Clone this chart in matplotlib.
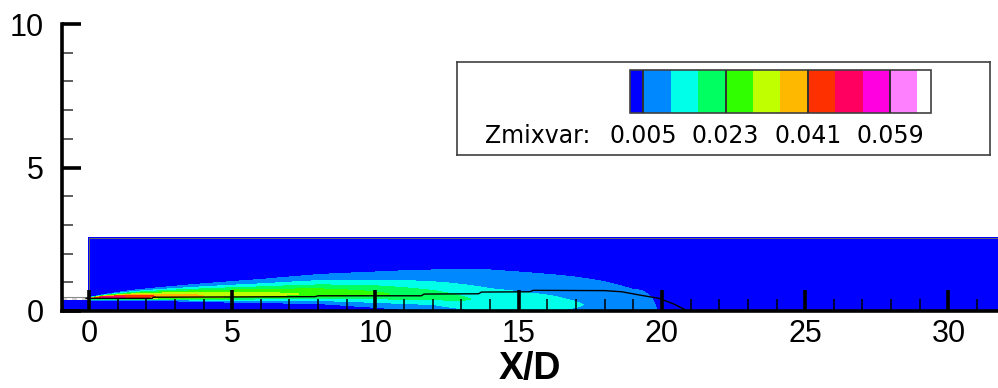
import numpy as np
import matplotlib.pyplot as plt
from matplotlib.patches import Rectangle

plt.rcParams['font.family'] = ['Liberation Sans', 'DejaVu Sans']

# contour levels and band colours (legend)
levels = [0.005, 0.011, 0.017, 0.023, 0.029, 0.035, 0.041, 0.047, 0.053, 0.059, 0.065]
band_colors = ['#0000FF', '#0088FF', '#00FFE8', '#00FF60', '#30FF00', '#C0FF00',
               '#FFB800', '#FF3000', '#FF0060', '#FF00E0', '#FF80FF', '#FFFFFF']
label_idx = [0, 3, 6, 9]
label_txt = ['0.005', '0.023', '0.041', '0.059']

# jet shear-layer stations
st_x = [0.0, 0.5, 1.5, 2.5, 4.0, 6.0, 8.0, 10.0, 12.0, 14.0, 16.0, 17.0, 18.0, 19.0, 19.7, 20.5, 32.0]
st_peak = [0.035, 0.050, 0.046, 0.040, 0.035, 0.031, 0.028, 0.024, 0.020, 0.0155, 0.0135, 0.0115,
           0.0095, 0.0075, 0.0053, 0.003, 0.0]
st_yc = [0.45, 0.48, 0.49, 0.51, 0.53, 0.56, 0.60, 0.60, 0.52, 0.35, 0.25, 0.22, 0.18, 0.12, 0.08, 0.05, 0.0]
st_top = [0.47, 0.57, 0.72, 0.82, 0.95, 1.10, 1.27, 1.36, 1.43, 1.43, 1.28, 1.18, 1.02, 0.75, 0.35, 0.3, 0.3]
st_inner = [0.05, 0.065, 0.085, 0.10, 0.14, 0.19, 0.24, 0.35, 0.42, 0.8, 0.9, 1.0, 1.0, 1.0, 1.0, 1.0, 1.0]
st_shape = [2.0, 2.0, 2.0, 1.9, 1.8, 1.7, 1.6, 1.5, 1.4, 1.3, 1.3, 1.3, 1.4, 1.5, 1.5, 1.5, 1.5]

# domain
dom_x = [0.0, 32.0]
dom_h = 2.55
nozzle_h = 0.38

# black iso-line
line_x = [-0.1, 2.2, 2.25, 7.9, 8.0, 11.6, 11.7, 13.6, 13.7, 15.4, 15.5, 18.0, 18.6, 19.2, 19.9, 20.4, 20.9]
line_y = [0.44, 0.44, 0.48, 0.50, 0.53, 0.53, 0.59, 0.60, 0.66, 0.67, 0.72, 0.71, 0.67, 0.56, 0.44, 0.25, 0.0]

# build field
gx = np.linspace(dom_x[0], dom_x[1], 801)
gy = np.linspace(0, dom_h, 300)
X, Y = np.meshgrid(gx, gy)
A = np.interp(X, st_x, st_peak)
yc = np.interp(X, st_x, st_yc)
p = np.interp(X, st_x, st_shape)
peak_a = np.array(st_peak)
wo_st = (np.array(st_top) - np.array(st_yc)) / np.log(np.maximum(peak_a / levels[0], 1.05)) ** (1 / np.array(st_shape))
wo = np.interp(X, st_x, wo_st)
wi = np.interp(X, st_x, st_inner)
d = Y - yc
eta = np.where(d >= 0, d / wo, -d / wi)
Z = A * np.exp(-eta ** p)

fig = plt.figure(figsize=(9.98, 3.88), dpi=100)
ax = fig.add_axes([62 / 998, 77 / 388, 936 / 998, 287 / 388])

ax.contourf(X, Y, Z, levels=[-1] + levels + [1], colors=band_colors, zorder=1)
ax.plot([dom_x[0], dom_x[0], dom_x[1]], [0.5, dom_h, dom_h], color='#666666', lw=0.7, zorder=2)

# nozzle inlet
ax.fill_between([-0.95, 0], 0, nozzle_h, color=band_colors[0], lw=0, zorder=1)
ax.plot([-0.95, 0], [0.5, 0.5], color='#888888', lw=0.8, zorder=2)
ax.plot([-0.95, 0], [0.43, 0.43], color='#cccccc', lw=1.2, ls=(0, (3, 3)), zorder=2)

ax.plot(line_x, line_y, color='black', lw=1.0, zorder=3)

ax.set_xlim(-0.94, 31.73)
ax.set_ylim(0, 10)
ax.set_xticks(range(0, 31, 5))
ax.set_xticks(range(0, 32), minor=True)
ax.set_yticks([0, 5, 10])
ax.set_yticks(range(0, 11), minor=True)
for s in ['top', 'right']:
    ax.spines[s].set_visible(False)
for s in ['left', 'bottom']:
    ax.spines[s].set_linewidth(2.6)
    ax.spines[s].set_zorder(5)
ax.tick_params(axis='x', which='major', direction='in', length=15, width=2.6, pad=6, labelsize=22)
ax.tick_params(axis='x', which='minor', direction='in', length=8.5, width=1.1)
ax.tick_params(axis='y', which='major', direction='in', length=14, width=2.6, pad=13, labelsize=22)
ax.tick_params(axis='y', which='minor', direction='in', length=8, width=1.1, color='#333333')
ax.set_axisbelow(False)
ax.set_xlabel('X/D', fontsize=27, fontweight='bold', labelpad=1)

# legend box
lax = fig.add_axes([457 / 998, 233 / 388, 533 / 998, 93 / 388])
lax.set_xlim(-6.8, 12.65)
lax.set_ylim(0, 93)
lax.set_xticks([])
lax.set_yticks([])
for s in lax.spines.values():
    s.set_linewidth(1.2)
    s.set_color('#404040')
lefts = [-0.5] + list(range(0, 10)) + [10]
widths = [0.5] + [1] * 10 + [0.5]
lax.bar(lefts, 42.7, bottom=42.3, width=widths, align='edge', color=band_colors, lw=0)
lax.add_patch(Rectangle((-0.5, 42.3), 11, 42.7, fill=False, edgecolor='#404040', lw=1.2))
lax.vlines(label_idx, 42.3, 85, color='#303030', lw=1.4)
lax.text(-5.78, 12, 'Zmixvar:', fontsize=17, family='DejaVu Sans', ha='left', va='baseline')
for i, t in zip(label_idx, label_txt):
    lax.text(i, 12, t, fontsize=17, family='DejaVu Sans', ha='center', va='baseline')

fig.savefig('out.png', dpi=100)
